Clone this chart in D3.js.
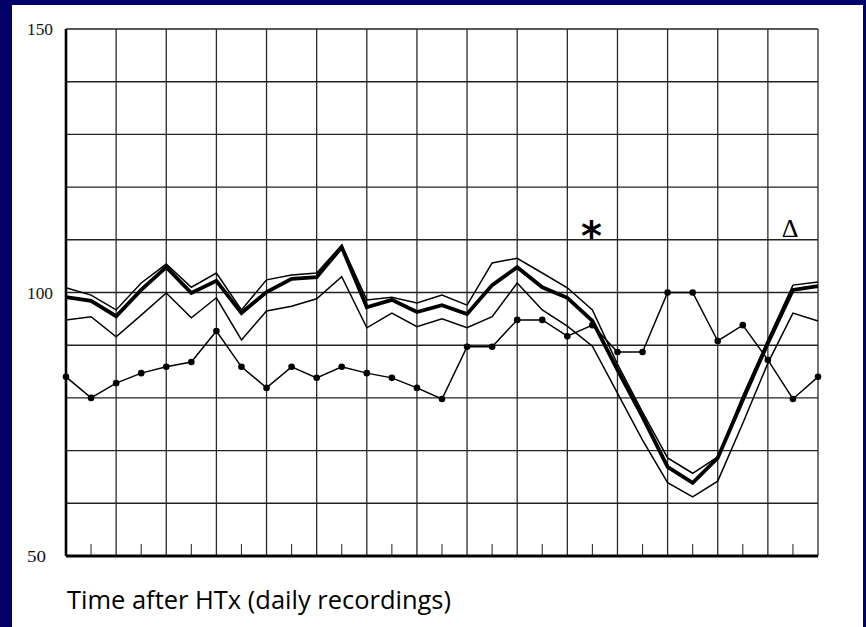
<!DOCTYPE html>
<html>
<head>
<meta charset="utf-8">
<script src="https://cdn.jsdelivr.net/npm/d3@7"></script>
<style>
  html, body { margin: 0; padding: 0; background: #000068; }
  svg { display: block; }
</style>
</head>
<body>
<svg id="chart" width="866" height="627"></svg>
<script>
// ---- data ----
const days = [0,1,2,3,4,5,6,7,8,9,10,11,12,13,14,15,16,17,18,19,20,21,22,23,24,25,26,27,28,29,30];
const meanSeries = [99.1, 98.4, 95.5, 100.5, 104.8, 99.9, 102.2, 96.1, 100.1, 102.6, 102.9, 108.6, 97.2, 98.6, 96.3, 97.6, 95.9, 101.4, 104.8, 101.0, 99.0, 94.6, 85.3, 76.4, 66.9, 63.9, 68.6, 79.6, 90.4, 100.5, 101.2];
const upperSeries = [100.9, 99.5, 96.7, 101.8, 105.4, 101.0, 103.7, 96.7, 102.4, 103.3, 103.7, 109.0, 98.6, 99.1, 98.0, 99.5, 97.6, 105.6, 106.5, 103.7, 100.9, 96.7, 86.4, 77.3, 68.6, 65.7, 68.8, 80.4, 91.0, 101.4, 102.0];
const lowerSeries = [94.8, 95.4, 91.6, 95.7, 99.9, 95.2, 99.0, 91.0, 96.5, 97.4, 98.8, 103.0, 93.3, 96.1, 93.5, 95.0, 93.3, 95.4, 101.8, 96.7, 93.6, 89.8, 80.9, 72.0, 63.9, 61.2, 64.2, 75.2, 86.6, 96.1, 94.6];
const dotSeries = [84.0, 80.0, 82.8, 84.7, 85.9, 86.8, 92.7, 85.9, 81.9, 85.9, 83.8, 85.9, 84.7, 83.8, 81.9, 79.8, 89.7, 89.7, 94.8, 94.8, 91.7, 93.8, 88.7, 88.7, 100, 100, 90.8, 93.8, 87.2, 79.8, 84.0];
const yTickLabels = [150, 100, 50];
const gridValues = [50, 60, 70, 80, 90, 100, 110, 120, 130, 140, 150];
const gridDays = [0,2,4,6,8,10,12,14,16,18,20,22,24,26,28,30];
const tickDays = [1,3,5,7,9,11,13,15,17,19,21,23,25,27,29];
const xTitle = "Time after HTx (daily recordings)";
const markers = [{label: "*", day: 21}, {label: "Δ", day: 29}];

// ---- drawing ----
const svg = d3.select("#chart");
svg.append("rect").attr("x", 12).attr("y", 5).attr("width", 851).attr("height", 622).attr("fill", "#ffffff");

const x = d3.scaleLinear().domain([0, 30]).range([66, 818]);
const y = d3.scaleLinear().domain([50, 150]).range([556, 29]);

const g = svg.append("g");

// horizontal grid
g.selectAll("line.h").data(gridValues).join("line")
  .attr("x1", x(0)).attr("x2", x(30))
  .attr("y1", d => y(d)).attr("y2", d => y(d))
  .attr("stroke", "#222").attr("stroke-width", 1.4);

// vertical grid
g.selectAll("line.v").data(gridDays).join("line")
  .attr("x1", d => x(d)).attr("x2", d => x(d))
  .attr("y1", y(150)).attr("y2", y(50))
  .attr("stroke", "#2a2a2a").attr("stroke-width", 1.3);

// small day ticks on bottom axis
g.selectAll("line.t").data(tickDays).join("line")
  .attr("x1", d => x(d)).attr("x2", d => x(d))
  .attr("y1", y(50)).attr("y2", y(50) - 12)
  .attr("stroke", "#333").attr("stroke-width", 1.1);

// axes (thicker)
g.append("line").attr("x1", x(0)).attr("x2", x(0)).attr("y1", y(150)).attr("y2", y(50))
  .attr("stroke", "#000").attr("stroke-width", 2.6);
g.append("line").attr("x1", x(0)).attr("x2", x(30)).attr("y1", y(50)).attr("y2", y(50))
  .attr("stroke", "#000").attr("stroke-width", 2.8);

// y labels
g.selectAll("text.yl").data(yTickLabels).join("text")
  .attr("x", 27).attr("y", d => y(d) + 6)
  .attr("font-family", "Liberation Serif, serif").attr("font-size", 17)
  .attr("textLength", d => d >= 100 ? 26 : 19).attr("lengthAdjust", "spacingAndGlyphs")
  .attr("fill", "#111")
  .text(d => d);

const line = d3.line().x((d, i) => x(days[i])).y(d => y(d));

function drawLine(vals, w) {
  g.append("path").datum(vals).attr("d", line)
    .attr("fill", "none").attr("stroke", "#000").attr("stroke-width", w)
    .attr("stroke-linejoin", "miter");
}
drawLine(lowerSeries, 1.5);
drawLine(upperSeries, 1.5);
drawLine(dotSeries, 1.5);
drawLine(meanSeries, 3.8);

g.selectAll("circle.dot").data(dotSeries).join("circle")
  .attr("cx", (d, i) => x(days[i])).attr("cy", d => y(d)).attr("r", 3.3)
  .attr("fill", "#000");

// markers
g.append("text").attr("x", x(markers[0].day) - 1).attr("y", 250)
  .attr("text-anchor", "middle")
  .attr("font-family", "DejaVu Sans, sans-serif").attr("font-weight", "bold").attr("font-size", 40)
  .attr("fill", "#000").text(markers[0].label);
g.append("text").attr("x", 790).attr("y", 237)
  .attr("text-anchor", "middle")
  .attr("font-family", "Liberation Serif, serif").attr("font-size", 26)
  .attr("fill", "#000").text(markers[1].label);

// x title
svg.append("text").attr("x", 67).attr("y", 609)
  .attr("font-family", "Open Sans, sans-serif").attr("font-size", 26)
  .attr("textLength", 384).attr("lengthAdjust", "spacingAndGlyphs")
  .attr("fill", "#000").text(xTitle);
</script>
</body>
</html>
